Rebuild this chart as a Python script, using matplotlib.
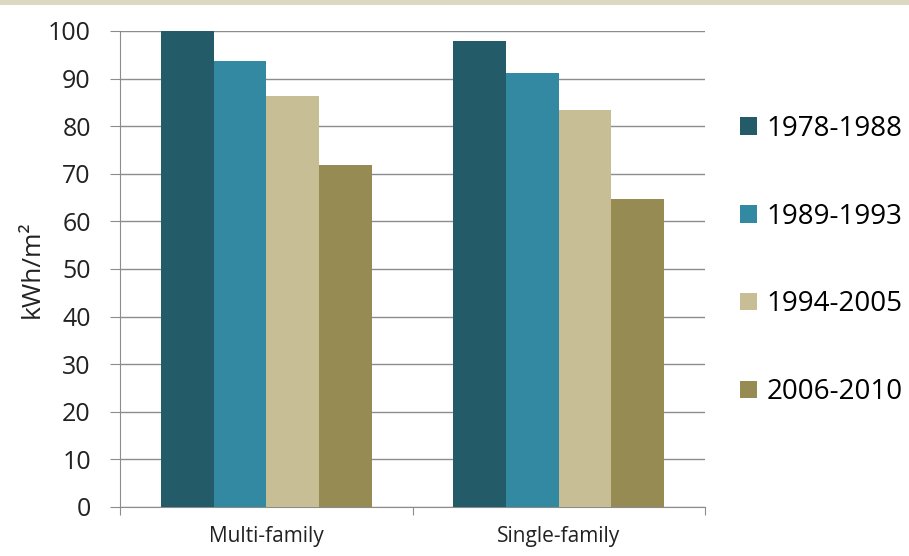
import matplotlib
matplotlib.use("Agg")
import matplotlib.pyplot as plt
import numpy as np
from matplotlib.patches import Rectangle

categories = ["Multi-family", "Single-family"]
series = ["1978-1988", "1989-1993", "1994-2005", "2006-2010"]
values = {
    "1978-1988": [100.0, 97.8],
    "1989-1993": [93.8, 91.2],
    "1994-2005": [86.4, 83.5],
    "2006-2010": [71.8, 64.7],
}
colors = ["#245b69", "#3389a1", "#c7be95", "#958b53"]
yticks = [0, 10, 20, 30, 40, 50, 60, 70, 80, 90, 100]

plt.rcParams['font.family'] = ['Open Sans', 'DejaVu Sans']

fig = plt.figure(figsize=(9.09, 5.56), dpi=100)
fig.patch.set_facecolor("white")
# top beige band (cropped title bar)
fig.patches.append(Rectangle((0, 1 - 5 / 556), 1, 5 / 556, transform=fig.transFigure,
                             facecolor="#ddd8c2", edgecolor="none", zorder=0))

ax = fig.add_axes([120 / 909, 49 / 556, 585 / 909, 476 / 556])
x = np.arange(len(categories))
w = 0.18
handles = []
for i, s in enumerate(series):
    b = ax.bar(x + (i - 1.5) * w, values[s], width=w, color=colors[i], zorder=3, label=s)
    handles.append(b)

ax.set_xlim(-0.5, 1.5)
ax.set_ylim(0, 100)
ax.set_yticks(yticks)
ax.set_yticklabels([str(t) for t in yticks], fontsize=18, color="#222222")
ax.yaxis.grid(True, color="#8c8c8c", linewidth=1.0, zorder=0)
ax.set_axisbelow(True)
for sp in ["top", "right"]:
    ax.spines[sp].set_visible(False)
ax.spines["left"].set_color("#8c8c8c")
ax.spines["bottom"].set_color("#8c8c8c")
ax.tick_params(axis="y", length=7, color="#8c8c8c", pad=14)

ax.set_xticks([-0.5, 0.5, 1.5])
ax.set_xticklabels([])
ax.set_xticks(x, minor=True)
ax.set_xticklabels(categories, minor=True, fontsize=15, color="#222222")
ax.tick_params(axis="x", which="major", length=6, color="#8c8c8c")
ax.tick_params(axis="x", which="minor", length=0, pad=14)

ax.set_ylabel("kWh/m²", fontsize=19, color="#222222", labelpad=2)

fig.legend(handles=handles, labels=series, loc="upper left",
           bbox_to_anchor=(740 / 909, 1 - 115 / 556), frameon=False,
           fontsize=20, handlelength=0.6, handleheight=0.6, handletextpad=0.35,
           labelspacing=2.15, borderaxespad=0, borderpad=0)

fig.savefig("out.png", dpi=100)
